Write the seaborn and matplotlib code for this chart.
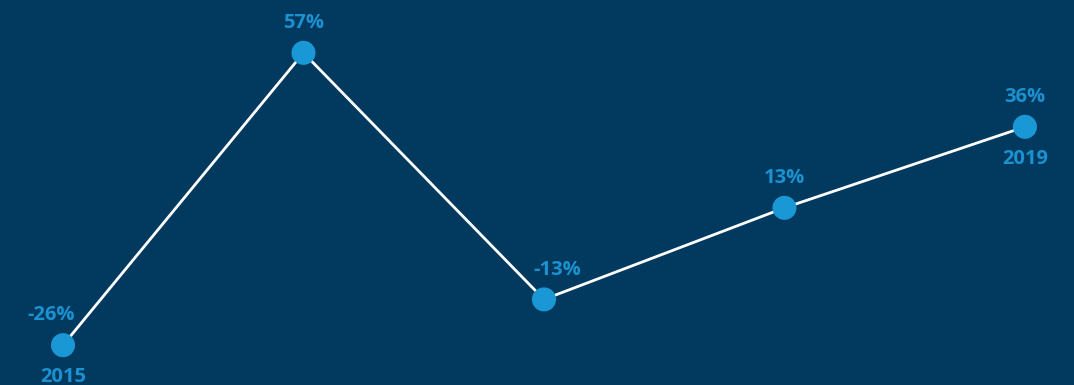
import matplotlib
matplotlib.use("Agg")
import matplotlib.pyplot as plt
import seaborn as sns
import pandas as pd

years = ["2015", "2016", "2017", "2018", "2019"]
values = [-26, 57, -13, 13, 36]
value_labels = ["-26%", "57%", "-13%", "13%", "36%"]
shown_years = {"2015", "2019"}
label_dx = [-8.6, 0, 9.4, 0, 0]  # horizontal nudge of value labels (points)

BG = "#02395f"
DOT = "#1a98d5"
TXT = "#1b91cf"

sns.set_theme(style="white")
plt.rcParams['font.family'] = ['Open Sans', 'DejaVu Sans']

df = pd.DataFrame({"idx": range(len(years)), "value": values, "year": years})

fig = plt.figure(figsize=(10.74, 3.85), dpi=100)
fig.patch.set_facecolor(BG)
ax = fig.add_axes([0, 0, 1, 1])
ax.set_facecolor(BG)

sns.lineplot(data=df, x="idx", y="value", color="white", linewidth=2, ax=ax, zorder=2)
sns.scatterplot(data=df, x="idx", y="value", color=DOT, s=300, edgecolor="none", ax=ax, zorder=3)

for i, (v, lab, yr, dx) in enumerate(zip(values, value_labels, years, label_dx)):
    ax.annotate(lab, (i, v), xytext=(dx, 21.5), textcoords="offset points",
                ha="center", va="center", color=TXT, fontsize=14.5, fontweight="bold")
    if yr in shown_years:
        ax.annotate(yr, (i, v), xytext=(0, -23), textcoords="offset points",
                    ha="center", va="center", color=TXT, fontsize=14.5, fontweight="bold")

ax.set_xlim(-0.262, 4.204)
ax.set_ylim(-37.3, 72.0)
ax.axis("off")

fig.savefig("out.png", dpi=100, facecolor=BG)
